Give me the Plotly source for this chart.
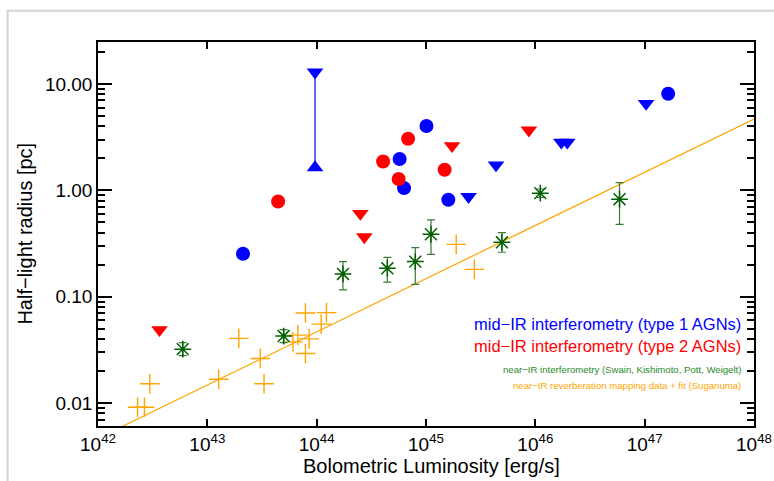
import numpy as np
import plotly.graph_objects as go

W, H = 774, 481
ML, MR, MT, MB = 97.5, 19.7, 42.3, 55.3
FONT = "Liberation Sans, Arial, Helvetica, sans-serif"

# mid-IR interferometry, type 1 AGNs: detections
t1_lum = [2.12e43, 1.01e45, 5.74e44, 6.30e44, 1.60e45, 1.64e47]
t1_rad = [0.254, 4.03, 1.97, 1.05, 0.815, 8.1]
# type 1 upper limits
t1_ul_lum = [9.66e43, 2.45e45, 4.37e45, 1.73e46, 1.96e46, 1.03e47]
t1_ul_rad = [12.9, 0.873, 1.73, 2.83, 2.83, 6.55]
# type 1 lower limit (same source as the first upper limit)
t1_ll_lum = [9.66e43]
t1_ll_rad = [1.64]

# mid-IR interferometry, type 2 AGNs: detections
t2_lum = [4.44e43, 4.05e44, 6.86e44, 5.62e44, 1.48e45]
t2_rad = [0.785, 1.87, 3.06, 1.28, 1.56]
# type 2 upper limits
t2_ul_lum = [3.65e42, 2.51e44, 2.73e44, 1.73e45, 8.73e45]
t2_ul_rad = [0.0489, 0.605, 0.365, 2.62, 3.68]

# near-IR interferometry with uncertainty ranges
nir_lum = [5.96e42, 4.99e43, 1.74e44, 4.43e44, 7.98e44, 1.11e45, 4.95e45, 1.11e46, 5.89e46]
nir_rad = [0.0322, 0.0427, 0.164, 0.185, 0.214, 0.387, 0.325, 0.942, 0.826]
nir_hi = [0.037, 0.049, 0.214, 0.235, 0.289, 0.527, 0.400, 1.03, 1.18]
nir_lo = [0.028, 0.037, 0.116, 0.137, 0.131, 0.250, 0.262, 0.86, 0.48]

# near-IR reverberation mapping radii
rm_lum = [2.30e42, 2.66e42, 2.98e42, 1.27e43, 1.94e43, 3.05e43, 3.30e43, 6.07e43,
          6.73e43, 8.53e43, 7.89e43, 7.89e43, 1.23e44, 1.10e44, 1.89e45, 2.77e45]
rm_rad = [0.00914, 0.00914, 0.0152, 0.0168, 0.0406, 0.0263, 0.0152, 0.0377,
          0.0436, 0.0402, 0.0293, 0.0703, 0.0710, 0.0553, 0.311, 0.181]

# R = fit_norm * (L / 1e45)^fit_slope
fit_norm = 0.148
fit_slope = 0.5

x_ticks = [1e42, 1e43, 1e44, 1e45, 1e46, 1e47, 1e48]
x_ticktext = ["10<sup>%d</sup>" % int(round(np.log10(v))) for v in x_ticks]
y_ticks = [0.01, 0.1, 1.0, 10.0]
y_ticktext = ["0.01", "0.10", "1.00", "10.00"]

BLUE, RED, GREEN, ORANGE = "#0000ff", "#ff0000", "#005f00", "#ffa500"

fig = go.Figure()

# reverberation fit line
fit_L = np.logspace(42, 48, 60)
fig.add_trace(go.Scatter(x=fit_L, y=fit_norm * (fit_L / 1e45) ** fit_slope,
                         mode="lines", line=dict(color=ORANGE, width=1.2),
                         hoverinfo="skip"))

# connector between the limits of the same type 1 source
fig.add_trace(go.Scatter(x=t1_ul_lum[:1] + t1_ll_lum, y=t1_ul_rad[:1] + t1_ll_rad,
                         mode="lines", line=dict(color=BLUE, width=1.2)))

fig.add_trace(go.Scatter(x=rm_lum, y=rm_rad, mode="markers",
                         marker=dict(symbol="cross-thin-open", size=14, color=ORANGE,
                                     line=dict(color=ORANGE, width=1.4))))

nir_r = np.array(nir_rad)
fig.add_trace(go.Scatter(
    x=nir_lum, y=nir_rad, mode="markers",
    marker=dict(symbol="asterisk-open", size=14, color=GREEN,
                line=dict(color=GREEN, width=1.5)),
    error_y=dict(type="data", symmetric=False,
                 array=np.array(nir_hi) - nir_r, arrayminus=nir_r - np.array(nir_lo),
                 color="#3a7a3a", thickness=1.2, width=4)))

fig.add_trace(go.Scatter(x=t1_lum, y=t1_rad, mode="markers",
                         marker=dict(symbol="circle", size=14, color=BLUE)))
fig.add_trace(go.Scatter(x=t1_ul_lum, y=t1_ul_rad, mode="markers",
                         marker=dict(symbol="triangle-down", size=14.5, color=BLUE)))
fig.add_trace(go.Scatter(x=t1_ll_lum, y=t1_ll_rad, mode="markers",
                         marker=dict(symbol="triangle-up", size=14.5, color=BLUE)))
fig.add_trace(go.Scatter(x=t2_lum, y=t2_rad, mode="markers",
                         marker=dict(symbol="circle", size=14, color=RED)))
fig.add_trace(go.Scatter(x=t2_ul_lum, y=t2_ul_rad, mode="markers",
                         marker=dict(symbol="triangle-down", size=14.5, color=RED)))

pw, ph = W - ML - MR, H - MT - MB


def px(x):
    return (x - ML) / pw


def py(y):
    return (H - MB - y) / ph


legend_lines = [
    ("mid−IR interferometry (type 1 AGNs)", BLUE, 16.5, 323.5),
    ("mid−IR interferometry (type 2 AGNs)", RED, 16.5, 345.5),
    ("near−IR interferometry (Swain, Kishimoto, Pott, Weigelt)", "#2a8a2a", 9.6, 369),
    ("near−IR reverberation mapping data + fit (Suganuma)", ORANGE, 9.6, 385.5),
]
annotations = []
for text, col, size, yc in legend_lines:
    annotations.append(dict(text=text, xref="paper", yref="paper", x=px(743), y=py(yc),
                            xanchor="right", yanchor="middle", showarrow=False,
                            font=dict(family=FONT, size=size, color=col)))

annotations.append(dict(text="Half−light radius [pc]", xref="paper", yref="paper",
                        x=px(24), y=py(234), textangle=-90, showarrow=False,
                        xanchor="center", yanchor="middle",
                        font=dict(family=FONT, size=20, color="black")))
annotations.append(dict(text="Bolometric Luminosity [erg/s]", xref="paper", yref="paper",
                        x=px(431), y=py(466), showarrow=False,
                        xanchor="center", yanchor="middle",
                        font=dict(family=FONT, size=20, color="black")))

minor_y = [m * 10.0 ** e for e in range(-3, 2) for m in range(2, 10)]

fig.update_layout(
    width=W, height=H,
    margin=dict(l=ML, r=MR, t=MT, b=MB, pad=0, autoexpand=False),
    paper_bgcolor="white", plot_bgcolor="white",
    showlegend=False,
    font=dict(family=FONT, size=19, color="black"),
    annotations=annotations,
    shapes=[dict(type="rect", xref="paper", yref="paper",
                 x0=px(7), x1=px(800), y0=py(500), y1=py(11),
                 line=dict(color="#d2d2d2", width=2), layer="below")],
    xaxis=dict(type="log", range=[42, 48], showgrid=False, zeroline=False,
               automargin=False,
               showline=True, linecolor="black", linewidth=1.5, mirror="allticks",
               ticks="inside", ticklen=7, tickwidth=1.5, tickcolor="black",
               tickvals=x_ticks, ticktext=x_ticktext,
               tickfont=dict(family=FONT, size=19)),
    yaxis=dict(type="log", range=[np.log10(0.0061), np.log10(24.8)],
               showgrid=False, zeroline=False, automargin=False,
               showline=True, linecolor="black", linewidth=1.5, mirror="allticks",
               ticks="inside", ticklen=14, tickwidth=1.5, tickcolor="black",
               tickvals=y_ticks, ticktext=y_ticktext,
               tickfont=dict(family=FONT, size=19),
               minor=dict(tickvals=minor_y, ticks="inside", ticklen=7,
                          tickwidth=1.5, tickcolor="black", showgrid=False)),
)

fig.write_html("out.html")
